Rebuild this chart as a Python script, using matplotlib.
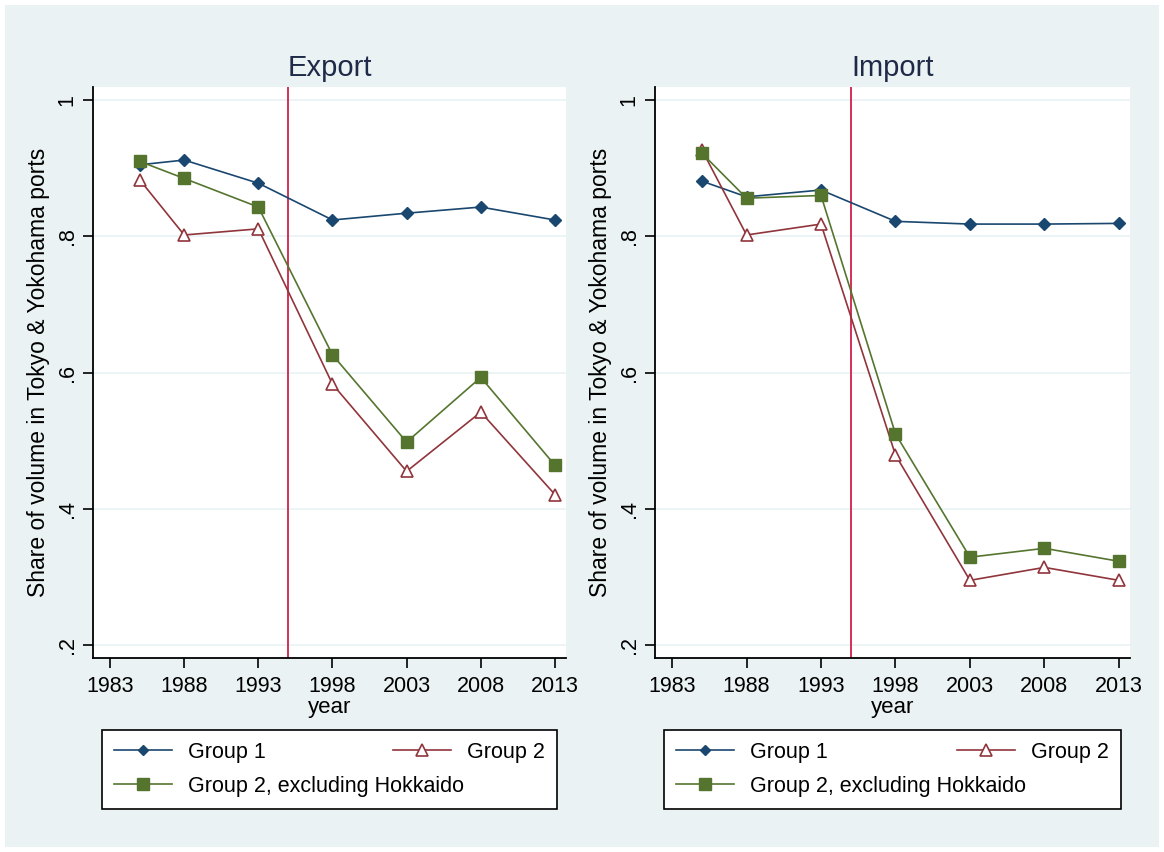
import numpy as np
import matplotlib.pyplot as plt
from matplotlib.patches import Rectangle

plt.rcParams['font.family'] = ['Liberation Sans', 'DejaVu Sans']

years = [1985, 1988, 1993, 1998, 2003, 2008, 2013]

export_g1 = [0.905, 0.912, 0.878, 0.824, 0.834, 0.843, 0.824]
export_g2 = [0.883, 0.802, 0.811, 0.583, 0.455, 0.542, 0.421]
export_g2_nohk = [0.910, 0.885, 0.843, 0.626, 0.498, 0.593, 0.464]

import_g1 = [0.881, 0.858, 0.868, 0.822, 0.818, 0.818, 0.819]
import_g2 = [0.927, 0.802, 0.818, 0.479, 0.295, 0.314, 0.295]
import_g2_nohk = [0.922, 0.856, 0.860, 0.510, 0.329, 0.342, 0.323]

xticks = [1983, 1988, 1993, 1998, 2003, 2008, 2013]
yticks = [0.2, 0.4, 0.6, 0.8, 1.0]
ytick_labels = ['.2', '.4', '.6', '.8', '1']
break_year = 1995

bg = '#eaf2f3'
c_g1 = '#1a476f'
c_g2 = '#90353b'
c_g3 = '#55752f'
c_vline = '#d0204a'

fig = plt.figure(figsize=(11.64, 8.52), dpi=100)
fig.patch.set_facecolor('white')
fig.add_artist(Rectangle((5 / 1164, 5 / 852), 1154 / 1164, 842 / 852,
                         transform=fig.transFigure, facecolor=bg,
                         edgecolor='none', zorder=-10))

panels = [
    ('Export', export_g1, export_g2, export_g2_nohk, [0.0799, 0.2277, 0.4064, 0.670]),
    ('Import', import_g1, import_g2, import_g2_nohk, [0.5627, 0.2277, 0.4081, 0.670]),
]

for title, g1, g2, g3, rect in panels:
    ax = fig.add_axes(rect)
    ax.set_facecolor('white')
    for y in yticks:
        ax.axhline(y, color=bg, lw=1.2, zorder=0)
    ax.axvline(break_year, color=c_vline, lw=1.3, zorder=1)

    h1, = ax.plot(years, g1, color=c_g1, lw=1.2, marker='D', ms=6,
                  mfc=c_g1, mec=c_g1, label='Group 1', zorder=3)
    h2, = ax.plot(years, g2, color=c_g2, lw=1.2, marker='^', ms=9,
                  mfc='white', mec=c_g2, mew=1.2, label='Group 2', zorder=3)
    h3, = ax.plot(years, g3, color=c_g3, lw=1.2, marker='s', ms=9,
                  mfc=c_g3, mec=c_g3, label='Group 2, excluding Hokkaido', zorder=3)

    ax.set_xlim(1981.85, 2013.75)
    ax.set_ylim(0.181, 1.019)
    ax.set_xticks(xticks)
    ax.set_yticks(yticks)
    ax.set_yticklabels(ytick_labels, rotation=90, va='center')
    ax.tick_params(axis='both', labelsize=15.5, length=7, width=1.2,
                   direction='out', color='black')
    ax.tick_params(axis='x', pad=6)
    ax.tick_params(axis='y', pad=4)
    for s in ['top', 'right']:
        ax.spines[s].set_visible(False)
    for s in ['left', 'bottom']:
        ax.spines[s].set_linewidth(1.3)

    ax.set_title(title, fontsize=21, color='#1e2a48', pad=8)
    ax.set_xlabel('year', fontsize=16, labelpad=0)
    ax.set_ylabel('Share of volume in Tokyo & Yokohama ports', fontsize=16.5, labelpad=5)

    # legend box sits under the x-axis title, spanning the panel width
    leg = ax.legend([h1, h3, h2], [h1.get_label(), h3.get_label(), h2.get_label()],
                    ncol=2, loc='upper left', mode='expand',
                    bbox_to_anchor=(0.019, -0.126, 0.962, 0),
                    fontsize=15.5, frameon=True, fancybox=False,
                    edgecolor='black', facecolor='white', framealpha=1,
                    borderaxespad=0, handlelength=2.7, handletextpad=0.75,
                    labelspacing=0.6, borderpad=0.55, columnspacing=1.0)
    leg.get_frame().set_linewidth(1.2)
    for lh in leg.legend_handles:
        lh.set_markersize(5 if lh.get_marker() == 'D' else 8)

fig.savefig('out.png', dpi=100, facecolor=fig.get_facecolor())
